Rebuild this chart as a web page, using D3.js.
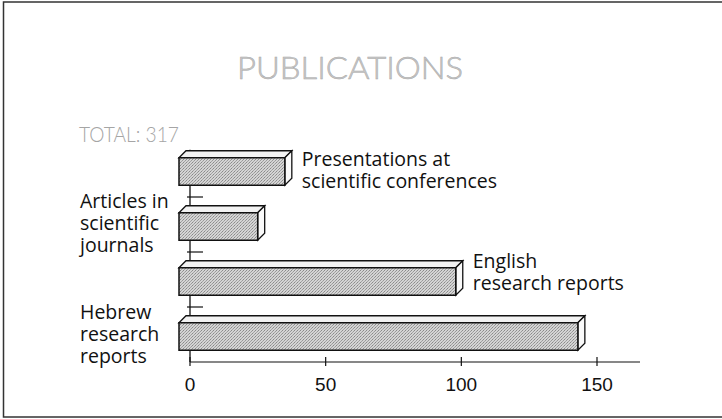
<!DOCTYPE html>
<html>
<head>
<meta charset="utf-8">
<script src="https://cdn.jsdelivr.net/npm/d3@7"></script>
<style>
  body { margin: 0; background: #fff; }
  .label-cat { font-family: "Open Sans", sans-serif; font-size: 19.5px; fill: #111; }
  .tick-label { font-family: "Liberation Sans", Arial, sans-serif; font-size: 19px; fill: #111; }
</style>
</head>
<body>
<div id="chart"></div>
<script>
// data
var categories = ["Presentations", "Articles", "English", "Hebrew"]
var values = [39, 29, 102, 147]
var labels = [
  ["Presentations at", "scientific conferences"],
  ["Articles in", "scientific", "journals"],
  ["English", "research reports"],
  ["Hebrew", "research", "reports"]
]
var labelSide = ["right", "left", "right", "left"]
var tickValues = [0, 50, 100, 150]
var total = 317

var width = 722, height = 419

var svg = d3.select("#chart")
  .append("svg")
    .attr("width", width)
    .attr("height", height)

// frame round the picture
svg.append("rect")
  .attr("x", 3.5)
  .attr("y", 2)
  .attr("width", width + 10)
  .attr("height", 415)
  .attr("fill", "none")
  .attr("stroke", "#333")
  .attr("stroke-width", 1.5)

svg.append("text")
  .attr("x", 350)
  .attr("y", 79)
  .attr("text-anchor", "middle")
  .attr("textLength", 226)
  .attr("lengthAdjust", "spacingAndGlyphs")
  .style("font-family", "Lato, sans-serif")
  .style("font-weight", 300)
  .style("font-size", "31px")
  .attr("fill", "#c8c8c8")
  .attr("stroke", "#a8a8a8")
  .attr("stroke-width", 0.5)
  .text("PUBLICATIONS")

svg.append("text")
  .attr("x", 79)
  .attr("y", 142)
  .attr("textLength", 100)
  .attr("lengthAdjust", "spacingAndGlyphs")
  .style("font-family", "Lato, sans-serif")
  .style("font-weight", 300)
  .style("font-size", "22px")
  .attr("fill", "#a5a5a5")
  .text("TOTAL: " + total)

var xScale = d3.scaleLinear()
  .domain([0, 150])
  .range([190, 597])

var yScale = d3.scaleBand()
  .domain(categories)
  .range([144, 364])
  .paddingInner(0.5)
  .paddingOuter(0.25)

var axisY = 362,
  shift = 11, // front face sits left of the axis
  depth = 7

// pattern for the stippled grey
var defs = svg.append("defs")
var pat = defs.append("pattern")
  .attr("id", "stipple")
  .attr("width", 3)
  .attr("height", 3)
  .attr("patternUnits", "userSpaceOnUse")
pat.append("rect").attr("width", 3).attr("height", 3).attr("fill", "#d4d4d4")
pat.append("rect").attr("x", 0).attr("y", 0).attr("width", 1).attr("height", 1).attr("fill", "#8a8a8a")
pat.append("rect").attr("x", 2).attr("y", 1).attr("width", 1).attr("height", 1).attr("fill", "#9a9a9a")
pat.append("rect").attr("x", 1).attr("y", 2).attr("width", 1).attr("height", 1).attr("fill", "#a5a5a5")

// vertical axis
svg.append("line")
  .attr("x1", xScale(0)).attr("x2", xScale(0))
  .attr("y1", yScale(categories[0]) - 8)
  .attr("y2", axisY)
  .attr("stroke", "#111")
  .attr("stroke-width", 1.3)

// small ticks between the bars
var bw = yScale.bandwidth()
for (var i = 0; i < categories.length - 1; i++) {
  var yt = (yScale(categories[i]) + bw + yScale(categories[i + 1]) - depth) / 2 + 1.5
  svg.append("line")
    .attr("x1", xScale(0) - 3).attr("x2", xScale(0) + 13)
    .attr("y1", yt).attr("y2", yt)
    .attr("stroke", "#111")
    .attr("stroke-width", 1.2)
}

// x axis
svg.append("line")
  .attr("x1", xScale(0)).attr("x2", 640)
  .attr("y1", axisY).attr("y2", axisY)
  .attr("stroke", "#111")
  .attr("stroke-width", 1.2)

svg.selectAll(".xtick")
  .data(tickValues)
  .enter()
  .append("line")
  .attr("class", "xtick")
  .attr("x1", function(d) { return xScale(d) })
  .attr("x2", function(d) { return xScale(d) })
  .attr("y1", axisY - 5)
  .attr("y2", axisY + 4)
  .attr("stroke", "#111")
  .attr("stroke-width", 1.2)

svg.selectAll(".tick-label")
  .data(tickValues)
  .enter()
  .append("text")
  .attr("class", "tick-label")
  .attr("x", function(d) { return xScale(d) })
  .attr("y", 391)
  .attr("text-anchor", "middle")
  .text(function(d) { return d })

// 3d bars
var bars = svg.selectAll(".bar")
  .data(categories)
  .enter()
  .append("g")
  .attr("class", "bar")

bars.each(function(c, i) {
  var g = d3.select(this)
  var x0 = xScale(0) - shift,
    w = xScale(values[i]) - xScale(0),
    y0 = yScale(c),
    h = bw

  g.append("path")
    .attr("d", "M" + x0 + "," + y0 + "L" + (x0 + depth) + "," + (y0 - depth) +
      "L" + (x0 + w + depth) + "," + (y0 - depth) + "L" + (x0 + w) + "," + y0 + "Z")
    .attr("fill", "#f2f2f2")
    .attr("stroke", "#111")
    .attr("stroke-width", 1.3)

  g.append("path")
    .attr("d", "M" + (x0 + w) + "," + y0 + "L" + (x0 + w + depth) + "," + (y0 - depth) +
      "L" + (x0 + w + depth) + "," + (y0 + h - depth) + "L" + (x0 + w) + "," + (y0 + h) + "Z")
    .attr("fill", "#fafafa")
    .attr("stroke", "#111")
    .attr("stroke-width", 1.3)

  g.append("rect")
    .attr("x", x0)
    .attr("y", y0)
    .attr("width", w)
    .attr("height", h)
    .attr("fill", "url(#stipple)")
    .attr("stroke", "#111")
    .attr("stroke-width", 1.5)
})

// category labels, baseline of the first line relative to the bar's front top
var labelTop = [8, -5, 0, -4]
categories.forEach(function(c, i) {
  var lines = labels[i],
    lh = 22,
    x, y
  if (labelSide[i] == "right") {
    x = xScale(values[i]) - shift + depth + 10
  } else {
    x = 80
  }
  y = yScale(c) + labelTop[i]
  var t = svg.append("text")
    .attr("class", "label-cat")
    .attr("x", x)
    .attr("y", y)
  lines.forEach(function(l, j) {
    t.append("tspan")
      .attr("x", x)
      .attr("dy", j == 0 ? 0 : lh)
      .text(l)
  })
})
</script>
</body>
</html>
